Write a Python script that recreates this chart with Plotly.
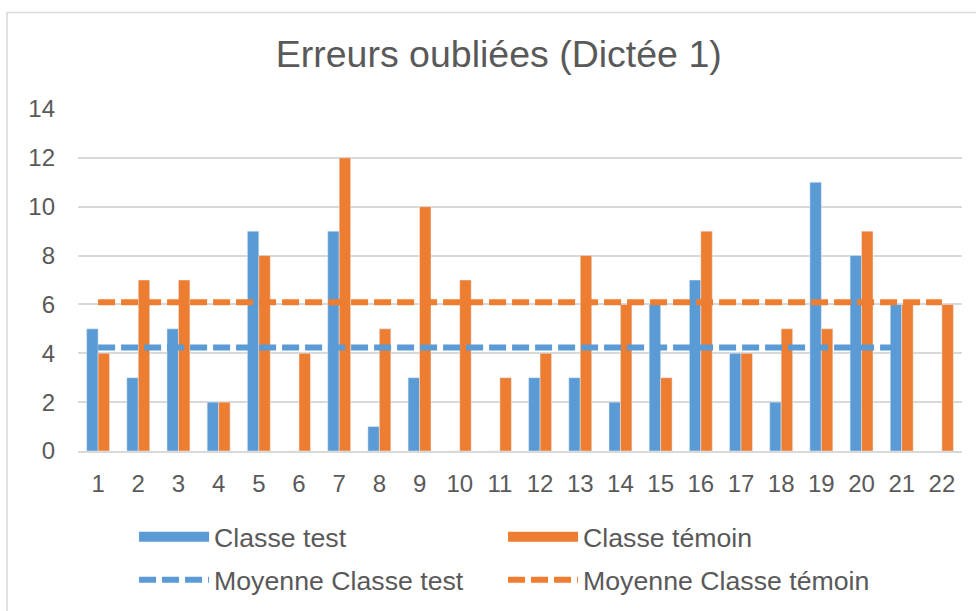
import plotly.graph_objects as go

categories = [str(i) for i in range(1, 23)]
classe_test = [5, 3, 5, 2, 9, 0, 9, 1, 3, 0, 0, 3, 3, 2, 6, 7, 4, 2, 11, 8, 6, None]
classe_temoin = [4, 7, 7, 2, 8, 4, 12, 5, 10, 7, 3, 4, 8, 6, 3, 9, 4, 5, 5, 9, 6, 6]
moyenne_test = [4.24, 4.24, 4.24, 4.24, 4.24, 4.24, 4.24, 4.24, 4.24, 4.24, 4.24,
                4.24, 4.24, 4.24, 4.24, 4.24, 4.24, 4.24, 4.24, 4.24, 4.24]
moyenne_temoin = [6.09, 6.09, 6.09, 6.09, 6.09, 6.09, 6.09, 6.09, 6.09, 6.09, 6.09,
                  6.09, 6.09, 6.09, 6.09, 6.09, 6.09, 6.09, 6.09, 6.09, 6.09, 6.09]
y_ticks = [0, 2, 4, 6, 8, 10, 12, 14]

BLUE = "#5B9BD5"
ORANGE = "#ED7D31"
TXT = "#595959"
GRID = "#D9D9D9"
FONT = "Liberation Sans, Arial, sans-serif"

fig = go.Figure()
fig.add_trace(go.Bar(x=categories, y=classe_test, marker_color=BLUE, name="Classe test",
                     showlegend=False))
fig.add_trace(go.Bar(x=categories, y=classe_temoin, marker_color=ORANGE, name="Classe témoin",
                     showlegend=False))
fig.add_trace(go.Scatter(x=categories[:len(moyenne_test)], y=moyenne_test, mode="lines",
                         line=dict(color=BLUE, width=6, dash="17px,6px"),
                         name="Moyenne Classe test", showlegend=False))
fig.add_trace(go.Scatter(x=categories, y=moyenne_temoin, mode="lines",
                         line=dict(color=ORANGE, width=6, dash="17px,6px"),
                         name="Moyenne Classe témoin", showlegend=False))

# legend entries (legend-only, drawn by plotly's legends: one row each)
fig.add_trace(go.Scatter(x=[None], y=[None], mode="lines", name="Classe test",
                         line=dict(color=BLUE, width=14), legend="legend"))
fig.add_trace(go.Scatter(x=[None], y=[None], mode="lines", name="Classe témoin",
                         line=dict(color=ORANGE, width=14), legend="legend"))
fig.add_trace(go.Scatter(x=[None], y=[None], mode="lines", name="Moyenne Classe test",
                         line=dict(color=BLUE, width=6, dash="17px,6px"), legend="legend2"))
fig.add_trace(go.Scatter(x=[None], y=[None], mode="lines", name="Moyenne Classe témoin",
                         line=dict(color=ORANGE, width=6, dash="17px,6px"), legend="legend2"))

legend_common = dict(orientation="h", xanchor="left", yanchor="middle",
                     entrywidth=284, entrywidthmode="pixels", itemwidth=70,
                     font=dict(size=26.7, color=TXT), traceorder="normal",
                     bgcolor="rgba(0,0,0,0)")

fig.update_layout(
    width=976, height=611,
    margin=dict(l=78, r=14, t=109, b=160, autoexpand=False),
    paper_bgcolor="white", plot_bgcolor="white",
    font=dict(family=FONT, color=TXT, size=24),
    barmode="group", bargap=0.43, bargroupgap=0,
    title=dict(text="Erreurs oubliées (Dictée 1)", x=0.511, xanchor="center",
               y=0.912, yanchor="middle", font=dict(size=37.5, color=TXT)),
    legend=dict(x=0.0634, y=(451 - 537) / 342, **legend_common),
    legend2=dict(x=0.0634, y=(451 - 580) / 342, **legend_common),
    xaxis=dict(type="category", categoryorder="array", categoryarray=categories,
               showline=True, linecolor=GRID, linewidth=1.5, showgrid=False,
               ticks="", tickfont=dict(size=24, color=TXT), ticklabelstandoff=10,
               fixedrange=True),
    yaxis=dict(range=[0, 14], tickvals=y_ticks, showgrid=True, gridcolor=GRID,
               gridwidth=1.5, zeroline=False, showline=False, ticks="",
               tickfont=dict(size=24, color=TXT), ticklabelstandoff=22,
               fixedrange=True),
    shapes=[dict(type="rect", xref="paper", yref="paper",
                 x0=(7 - 78) / 884, x1=1.5, y0=-1.0, y1=(451 - 12.5) / 342,
                 line=dict(color=GRID, width=1.5), fillcolor="rgba(0,0,0,0)", layer="below")],
)

fig.write_html("out.html", config={"displayModeBar": False},
               post_script="document.body.style.margin='0px';")
